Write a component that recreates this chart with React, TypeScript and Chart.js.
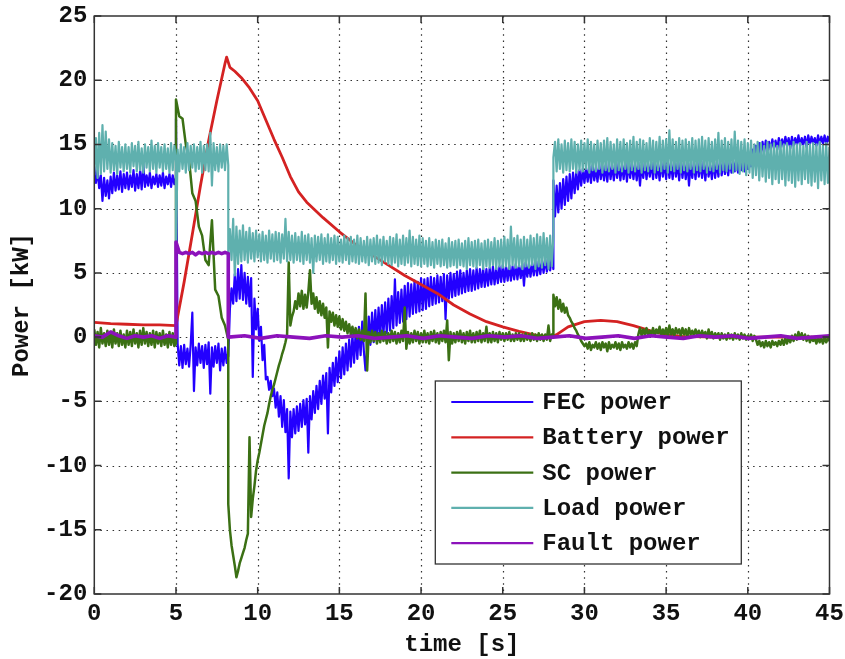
import React, { useEffect, useRef } from "react";
import { Chart, registerables } from "chart.js";

Chart.register(...registerables);

// ---- axes -------------------------------------------------------------
const timeTicks = [0, 5, 10, 15, 20, 25, 30, 35, 40, 45]; // s
const powerTicks = [-20, -15, -10, -5, 0, 5, 10, 15, 20, 25]; // kW

// Operating intervals [s]: normal, fault, post-fault, load step
const phaseBounds = [0, 5, 8.2, 28.1, 45];
const faultBounds = [0, 5, 8.2, 45];

// ---- FEC power [kW], samples spread evenly inside each interval --------
const fecPhase1 = [
  13.3, 12.0, 13.0, 11.6, 12.6, 10.6, 12.4, 11.0, 12.2, 10.8,
  12.5, 11.2, 12.8, 11.4, 12.6, 11.5, 12.9, 11.3, 12.7, 11.6,
  12.8, 11.5, 12.6, 11.7, 13.0, 11.4, 12.7, 11.6, 12.9, 11.5,
  13.5, 11.7, 12.6, 11.8, 12.8, 11.6, 12.5, 11.9, 12.7, 11.7,
  12.6, 11.8, 12.8, 11.6, 12.5, 11.9, 12.7, 11.7, 12.6, 11.9,
  12.4,
];
const fecPhase2 = [
  17.0, -0.5, -2.2, -0.7, -2.4, -0.6, -2.1, -0.9, -2.3, -0.6,
  1.9, -4.2, -0.8, -2.2, -0.5, -2.0, -0.7, -2.4, -0.6, -2.1,
  -0.4, -4.4, -0.8, -2.3, -0.7, -2.0, -0.5, -2.6, -0.9, -2.2,
  -0.8, -2.0, -1.2,
];
const fecPhase3 = [
  -1.5, 2.2, 3.8, 2.6, 4.9, 2.8, 5.3, 3.0, 5.6, 2.9,
  5.0, 2.6, 4.7, 2.4, 4.6, -3.1, 3.0, 0.6, 2.2, -0.3,
  0.8, -1.8, -0.6, -3.3, -3.1, -4.1, -3.4, -4.6, -4.0, -5.5,
  -4.3, -6.2, -4.6, -7.0, -4.9, -7.4, -5.6, -11.0, -5.8, -7.8,
  -5.6, -7.5, -5.4, -7.3, -5.2, -7.0, -4.9, -6.8, -4.8, -9.0,
  -4.6, -6.4, -4.2, -5.9, -3.8, -5.6, -3.4, -5.2, -3.0, -4.8,
  -2.8, -7.5, -2.4, -4.3, -2.0, -3.8, -1.6, -3.5, -1.1, -3.2,
  -0.8, -2.9, -0.5, -2.6, -0.2, -2.3, 0.2, -2.0, 0.5, -1.7,
  0.8, -1.4, 1.2, -1.1, -2.6, -0.9, 1.6, -0.6, 1.9, -0.4,
  2.1, -0.2, 2.3, 0.0, 2.5, 0.2, 2.7, 0.3, 3.0, 0.5,
  3.2, 0.7, 4.5, 0.9, 3.5, 1.1, 3.7, 1.2, 4.0, 1.4,
  4.2, 1.6, 4.1, 1.8, 4.4, 1.9, 4.3, 2.0, 4.6, 2.1,
  4.5, 2.2, 4.6, 2.4, 4.7, 2.5, 4.6, 2.6, 4.8, 2.7,
  4.7, 2.8, 4.9, 1.4, 4.8, 3.0, 5.0, 3.1, 4.9, 3.2,
  5.1, 3.3, 5.2, 3.4, 5.0, 3.5, 5.2, 3.6, 5.3, 3.6,
  5.2, 3.7, 5.4, 3.8, 5.3, 3.9, 5.4, 3.9, 5.3, 4.0,
  5.4, 4.1, 5.5, 4.1, 5.4, 4.2, 5.5, 4.3, 5.6, 4.3,
  5.5, 4.4, 5.6, 4.4, 5.5, 4.5, 5.7, 4.5, 5.6, 4.6,
  5.7, 4.0, 5.8, 4.7, 5.7, 4.7, 5.8, 4.8, 5.9, 4.8,
  5.9, 4.9, 6.0, 5.0, 6.1, 5.1, 6.0, 5.2, 6.2, 5.3,
];
const fecPhase4 = [
  12.2, 9.4, 11.8, 9.7, 12.0, 10.0, 12.3, 10.3, 12.5, 10.6,
  12.7, 10.8, 12.8, 11.2, 12.9, 11.5, 13.0, 11.8, 13.1, 12.0,
  13.2, 12.1, 13.3, 12.0, 13.4, 12.2, 13.2, 12.1, 13.5, 12.3,
  13.3, 12.2, 13.4, 12.1, 13.6, 12.3, 13.4, 12.2, 13.5, 12.4,
  13.6, 12.2, 13.4, 12.3, 13.7, 12.1, 13.5, 12.4, 13.6, 12.3,
  13.5, 12.2, 13.6, 11.8, 13.4, 12.4, 13.7, 12.3, 13.5, 12.5,
  13.6, 12.3, 13.8, 12.4, 13.5, 12.2, 13.7, 12.5, 13.6, 12.3,
  13.8, 12.4, 13.6, 12.3, 13.7, 12.5, 13.5, 12.2, 13.8, 12.4,
  13.6, 12.3, 13.7, 11.8, 13.5, 12.4, 13.6, 12.3, 13.8, 12.5,
  13.5, 12.4, 13.7, 12.2, 13.6, 12.5, 13.4, 12.3, 13.7, 12.4,
  13.6, 12.5, 13.8, 12.6, 13.7, 12.7, 13.6, 12.6, 13.8, 12.8,
  13.7, 12.9, 13.9, 12.8, 14.0, 13.0, 13.8, 12.9, 14.1, 13.1,
  14.2, 13.3, 14.6, 13.6, 14.9, 13.9, 15.1, 14.2, 15.2, 14.4,
  15.3, 14.5, 15.2, 14.6, 15.4, 14.7, 15.3, 14.6, 15.5, 14.8,
  15.4, 14.8, 15.6, 14.9, 15.5, 14.7, 15.6, 14.9, 15.5, 15.0,
  15.7, 14.9, 15.5, 15.0, 15.6, 14.8, 15.7, 15.0, 15.6, 15.1,
  15.5, 14.9, 15.7, 15.0, 15.6, 15.1, 15.7, 15.0, 15.6, 15.2,
];

// ---- Battery power [kW] ------------------------------------------------
const batteryTime = [
  0, 1, 2, 3, 4, 5, 5.5, 6, 6.5, 7, 7.5, 8, 8.1, 8.3, 8.6, 9, 9.5, 10,
  10.5, 11, 11.5, 12, 12.5, 13, 13.5, 14, 15, 16, 17, 18, 19, 20, 21, 22,
  23, 24, 25, 26, 27, 28, 28.3, 29, 30, 31, 32, 33, 34, 35, 36, 38, 40, 42, 45,
];
const batteryPower = [
  1.15, 1.05, 1.0, 0.95, 0.95, 0.9, 4.3, 8.0, 11.8, 15.3, 18.4, 21.3, 21.8,
  21.0, 20.7, 20.2, 19.4, 18.4, 16.9, 15.4, 14.0, 12.5, 11.3, 10.5, 9.9,
  9.3, 8.2, 7.2, 6.4, 5.6, 4.8, 4.1, 3.4, 2.5, 1.8, 1.2, 0.8, 0.45, 0.15,
  0.0, 0.2, 0.8, 1.2, 1.3, 1.2, 0.9, 0.5, 0.2, 0.05, 0, 0, 0, 0,
];

// ---- Supercapacitor power [kW] -----------------------------------------
const scPhase1 = [
  0.6, -0.6, 0.4, -0.8, 0.7, -0.5, 0.3, -0.7, 0.5, -0.6,
  0.4, -0.8, 0.6, -0.5, 0.3, -0.7, 0.5, -0.6, 0.2, -0.8,
  0.5, -0.6, 0.4, -0.7, 0.6, -0.5, 0.3, -0.8, 0.5, -0.6,
  0.7, -0.5, 0.4, -0.7, 0.3, -0.6, 0.5, -0.8, 0.4, -0.5,
  0.3, -0.7, 0.5, -0.6, 0.2, -0.8, 0.4, -0.6, 0.3, -0.7,
  -0.5,
];
const scPhase2 = [
  18.5, 17.2, 17.0, 15.0, 13.8, 11.2, 10.6, 8.6, 7.9, 6.0,
  5.6, 9.1, 3.7, 3.2, 1.5, 0.9, -0.2,
];
const scPhase3 = [
  -13.0, -15.0, -16.2, -17.0, -17.8, -18.7, -18.2, -17.6, -17.2, -16.8,
  -16.4, -15.8, -15.3, -7.8, -14.0, -12.6, -11.6, -10.4, -9.6, -9.0,
  -8.3, -7.6, -6.9, -6.4, -5.9, -5.2, -4.6, -4.1, -3.7, -3.2,
  -2.7, -2.2, -1.8, -1.3, -0.9, -0.4, 0.2, 5.8, 0.9, 1.6,
  2.0, 2.8, 2.2, 3.4, 2.4, 3.6, 2.2, 3.3, 2.3, 3.5,
  5.2, 2.6, 3.4, 2.2, 3.1, 1.9, 2.8, 1.7, 2.6, 1.5,
  2.3, -0.8, 2.0, 1.2, 1.9, 0.9, 1.7, 0.8, 1.6, 0.6,
  1.4, 0.5, 1.2, 0.3, 1.0, 0.2, 0.8, 0.1, 0.7, -0.1,
  0.6, -0.2, 0.5, -0.3, 3.4, -2.6, 0.4, -0.4, 0.5, -0.3,
  0.4, -0.5, 0.3, -0.4, 0.5, -0.3, 0.4, -0.5, 0.3, -0.4,
  0.5, -0.3, 0.4, -0.5, 0.3, -0.4, 0.5, -0.3, 2.3, -0.9,
  0.4, -0.5, 0.3, -0.4, 0.5, -0.3, 0.4, -0.5, 0.3, -0.4,
  0.5, -0.4, 0.3, -0.5, 0.4, -0.3, 0.5, -0.4, 0.3, -0.5,
  0.4, -0.3, 0.5, -0.4, 1.3, -1.8, 0.4, -0.5, 0.3, -0.4,
  0.4, -0.3, 0.5, -0.4, 0.3, -0.5, 0.4, -0.3, 0.5, -0.4,
  0.3, -0.4, 0.4, -0.3, 0.5, -0.4, 0.3, -0.3, 0.8, -0.4,
  0.3, -0.4, 0.4, -0.3, 0.3, -0.4, 0.4, -0.2, 0.3, -0.3,
  0.3, -0.2, 0.4, -0.3, 0.2, -0.3, 0.3, -0.2, 0.3, -0.3,
  0.2, -0.3, 0.3, -0.2, 0.2, -0.3, 0.3, -0.2, 0.2, -0.3,
  0.3, -0.2, 0.2, -0.3, 0.2, -0.2, 0.9, -0.3, 0.2, 0.1,
];
const scPhase4 = [
  3.3, 2.4, 3.1, 2.2, 2.9, 2.0, 2.6, 1.9, 2.3, 1.7,
  1.5, 1.2, 1.0, 0.7, 0.5, 0.2, 0.0, -0.3, -0.5, -0.7,
  -0.5, -0.9, -0.4, -1.0, -0.6, -0.8, -0.4, -0.9, -0.5, -1.0,
  -0.4, -0.8, -0.5, -1.1, -0.4, -0.9, -0.6, -0.8, -0.4, -0.9,
  -0.5, -1.0, -0.4, -0.8, -0.6, -0.9, -0.4, -0.8, -0.5, -0.9,
  -0.4, -0.7, 0.2, 0.7, 0.1, 0.6, 0.2, 0.7, 0.1, 0.5,
  0.2, 0.7, 0.1, 0.6, 0.3, 0.8, 0.1, 0.6, 0.2, 0.7,
  0.1, 0.9, 0.2, 0.6, 0.1, 0.7, 0.3, 0.6, 0.1, 0.7,
  0.2, 0.6, 0.0, 0.7, 0.2, 0.5, 0.1, 0.6, 0.2, 0.5,
  0.0, 0.5, 0.1, 0.4, -0.1, 0.6, 0.0, 0.4, -0.1, 0.3,
  0.0, 0.3, -0.2, 0.3, -0.1, 0.2, -0.2, 0.3, -0.1, 0.2,
  -0.2, 0.3, -0.1, 0.2, -0.2, 0.3, -0.1, 0.2, -0.2, 0.1,
  -0.1, 0.2, -0.3, 0.1, -0.2, -0.6, -0.3, -0.7, -0.4, -0.8,
  -0.3, -0.7, -0.4, -0.8, -0.3, -0.6, -0.4, -0.7, -0.3, -0.6,
  -0.2, -0.6, -0.1, -0.5, 0.0, -0.4, 0.1, -0.3, 0.2, -0.2,
  0.4, -0.1, 0.3, -0.2, 0.2, -0.3, 0.1, -0.4, 0.0, -0.3,
  -0.1, -0.5, 0.0, -0.4, -0.1, -0.5, 0.0, -0.4, -0.1, -0.3,
];

// ---- Load power [kW] ---------------------------------------------------
const loadPhase1 = [
  12.6, 15.5, 12.4, 15.9, 12.7, 16.5, 12.9, 16.0, 13.1, 15.4,
  12.8, 15.1, 13.0, 14.9, 12.7, 15.2, 13.2, 14.8, 12.9, 15.0,
  13.1, 14.8, 12.8, 15.1, 13.3, 14.9, 12.9, 15.2, 13.0, 14.7,
  12.8, 15.0, 13.2, 14.8, 12.9, 15.3, 13.1, 14.9, 12.8, 15.1,
  13.2, 14.8, 12.9, 15.0, 13.1, 14.7, 12.8, 15.1, 13.0, 14.9,
  13.6,
];
const loadPhase2 = [
  6.8, 14.6, 12.9, 15.0, 13.1, 14.8, 12.8, 15.1, 13.0, 14.9,
  13.2, 15.0, 12.9, 14.8, 13.1, 15.2, 12.8, 14.9, 13.0, 15.0,
  12.9, 15.9, 11.8, 15.1, 13.0, 14.8, 12.9, 15.0, 13.2, 14.9,
  13.0, 15.0, 13.4,
];
const loadPhase3 = [
  6.2, 8.4, 6.0, 9.2, 4.8, 8.6, 5.7, 8.3, 5.9, 8.7,
  6.0, 8.2, 5.8, 8.5, 6.1, 8.1, 5.9, 8.3, 6.2, 8.0,
  5.9, 8.2, 6.0, 7.9, 5.8, 8.3, 6.1, 8.0, 5.9, 8.2,
  6.0, 8.1, 5.8, 8.0, 6.1, 9.2, 5.9, 8.2, 6.0, 7.9,
  5.8, 8.1, 6.0, 7.8, 5.9, 8.2, 5.7, 7.9, 6.0, 8.0,
  5.8, 7.7, 5.0, 7.9, 5.9, 7.8, 6.0, 8.0, 5.7, 7.7,
  5.9, 8.0, 5.8, 7.7, 6.0, 7.9, 5.7, 7.8, 5.9, 7.6,
  5.8, 7.9, 6.0, 7.7, 5.7, 7.8, 5.9, 7.6, 5.8, 7.9,
  5.7, 7.7, 5.9, 7.5, 5.8, 7.8, 5.6, 7.6, 5.9, 7.7,
  5.7, 7.9, 5.8, 7.6, 5.6, 7.8, 5.9, 7.5, 5.7, 7.8,
  5.6, 7.7, 5.8, 8.0, 5.5, 7.6, 5.7, 7.9, 5.6, 7.7,
  5.8, 8.3, 5.5, 7.8, 5.7, 7.6, 5.6, 7.9, 5.5, 7.7,
  5.7, 7.5, 5.5, 7.7, 5.6, 7.4, 5.4, 7.6, 5.7, 7.5,
  5.5, 7.6, 5.6, 7.3, 5.4, 7.7, 5.5, 7.4, 5.6, 7.5,
  5.4, 7.6, 5.6, 7.3, 5.5, 7.5, 5.3, 7.7, 5.6, 7.4,
  5.5, 7.5, 5.4, 7.6, 5.6, 7.3, 5.3, 7.5, 5.5, 7.6,
  5.4, 7.4, 5.6, 7.7, 5.3, 7.5, 5.5, 7.6, 5.4, 7.8,
  5.5, 7.6, 5.3, 8.6, 5.6, 7.7, 5.4, 7.9, 5.5, 7.6,
  5.3, 7.8, 5.5, 7.6, 5.4, 7.9, 5.6, 7.7, 5.3, 8.0,
  5.5, 7.8, 5.4, 8.1, 5.6, 7.7, 5.3, 7.9, 5.5, 7.8,
];
const loadPhase4 = [
  14.0, 15.2, 12.9, 15.4, 13.1, 15.0, 12.8, 15.3, 13.0, 15.1,
  12.9, 15.4, 13.1, 15.2, 12.8, 15.0, 13.0, 15.3, 12.9, 15.1,
  13.1, 15.4, 12.8, 15.2, 13.0, 15.0, 12.9, 15.3, 13.1, 15.1,
  12.8, 15.3, 13.0, 15.5, 12.9, 15.2, 13.1, 15.0, 12.8, 15.4,
  13.0, 15.2, 12.9, 15.4, 13.1, 15.1, 12.8, 15.3, 13.0, 15.6,
  12.9, 15.2, 13.1, 15.4, 12.8, 15.3, 13.0, 15.1, 12.9, 15.5,
  13.1, 15.3, 12.8, 15.2, 13.0, 15.6, 12.9, 15.3, 13.1, 15.4,
  12.8, 16.1, 13.0, 15.4, 12.9, 15.2, 13.1, 15.5, 12.8, 15.3,
  13.0, 15.4, 12.9, 15.2, 13.1, 15.5, 12.8, 15.3, 13.0, 15.4,
  12.9, 15.6, 13.1, 15.3, 12.8, 15.5, 13.0, 15.2, 12.9, 15.4,
  13.1, 15.9, 12.8, 15.3, 13.0, 15.5, 12.9, 15.2, 13.1, 15.4,
  12.8, 16.0, 13.0, 15.3, 12.7, 15.2, 12.9, 15.4, 12.6, 15.1,
  12.8, 15.3, 12.4, 15.0, 12.6, 15.2, 12.2, 15.1, 12.5, 14.9,
  12.1, 15.2, 12.4, 15.0, 11.9, 15.1, 12.3, 14.9, 12.0, 15.2,
  12.3, 15.0, 11.8, 15.1, 12.2, 14.9, 12.0, 15.2, 11.7, 15.0,
  12.2, 15.1, 11.9, 14.9, 12.3, 15.2, 12.0, 15.0, 11.8, 15.1,
  12.1, 15.0, 11.6, 15.2, 12.2, 14.9, 11.9, 15.1, 12.0, 14.8,
];

// ---- Fault power [kW] --------------------------------------------------
const faultPhase1 = [0.1, 0.0, 0.4, 0.1, -0.1, 0.1, 0.0, 0.1, -0.1, 0.1, 0.0];
const faultPhase2 = [
  7.4, 6.6, 6.5, 6.6, 6.5, 6.6, 6.4, 6.6, 6.5, 6.6,
  6.5, 6.6, 6.5, 6.6, 6.5, 6.6, 6.5,
];
const faultPhase3 = [
  0.0, 0.1, -0.1, 0.1, 0.0, -0.1, 0.1, 0.0, 0.1, -0.1,
  0.0, 0.1, -0.1, 0.1, 0.0, -0.1, 0.1, 0.0, 0.1, -0.1,
  0.0, 0.1, -0.1, 0.0, 0.1, -0.1, 0.1, 0.0, -0.1, 0.1,
  0.0, 0.1, -0.1, 0.0, 0.1, -0.1, 0.0, 0.1,
];

const seriesNames = ["FEC power", "Battery power", "SC power", "Load power", "Fault power"];
const seriesColors = ["#2300ff", "#d42222", "#3b7014", "#5fb0ae", "#8c12bb"];
const seriesWidths = [2.2, 2.8, 2.5, 2.2, 3.6];

const FONT = { family: "'Liberation Mono', 'DejaVu Sans Mono', monospace", size: 24, weight: "bold" as const };
const INK = "#111111";

type Pt = { x: number; y: number };

// Spread each interval's samples evenly between its start and end time.
function sampled(bounds: number[], parts: number[][]): Pt[] {
  const pts: Pt[] = [];
  parts.forEach((vals, k) => {
    const t0 = bounds[k];
    const t1 = bounds[k + 1];
    vals.forEach((v, i) => pts.push({ x: t0 + ((t1 - t0) * i) / (vals.length - 1), y: v }));
  });
  return pts;
}

function paired(t: number[], v: number[]): Pt[] {
  return t.map((x, i) => ({ x, y: v[i] }));
}

// Dotted grid, framed box with inward ticks, and the boxed legend.
const framePlugin = {
  id: "frame",
  beforeDatasetsDraw(chart: any) {
    const { ctx, chartArea: a, scales } = chart;
    const xs = scales.x;
    const ys = scales.y;
    ctx.save();
    ctx.strokeStyle = "#303030";
    ctx.lineWidth = 1.2;
    ctx.setLineDash([1.5, 4.6]);
    ctx.beginPath();
    timeTicks.forEach((t) => {
      if (t <= xs.min || t >= xs.max) return;
      const px = Math.round(xs.getPixelForValue(t)) + 0.5;
      ctx.moveTo(px, a.top);
      ctx.lineTo(px, a.bottom);
    });
    powerTicks.forEach((p) => {
      if (p <= ys.min || p >= ys.max) return;
      const py = Math.round(ys.getPixelForValue(p)) + 0.5;
      ctx.moveTo(a.left, py);
      ctx.lineTo(a.right, py);
    });
    ctx.stroke();
    ctx.restore();
  },
  afterDatasetsDraw(chart: any) {
    const { ctx, chartArea: a, scales } = chart;
    const xs = scales.x;
    const ys = scales.y;
    ctx.save();
    ctx.strokeStyle = "#333333";
    ctx.lineWidth = 1.5;
    ctx.setLineDash([]);
    ctx.strokeRect(a.left, a.top, a.right - a.left, a.bottom - a.top);
    const tl = 7;
    ctx.beginPath();
    timeTicks.forEach((t) => {
      const px = xs.getPixelForValue(t);
      ctx.moveTo(px, a.bottom);
      ctx.lineTo(px, a.bottom - tl);
      ctx.moveTo(px, a.top);
      ctx.lineTo(px, a.top + tl);
    });
    powerTicks.forEach((p) => {
      const py = ys.getPixelForValue(p);
      ctx.moveTo(a.left, py);
      ctx.lineTo(a.left + tl, py);
      ctx.moveTo(a.right, py);
      ctx.lineTo(a.right - tl, py);
    });
    ctx.stroke();

    // legend box
    const bx = a.left + 341;
    const by = a.top + 365;
    const bw = 306;
    const bh = 183;
    ctx.fillStyle = "#ffffff";
    ctx.fillRect(bx, by, bw, bh);
    ctx.lineWidth = 1.3;
    ctx.strokeStyle = "#333333";
    ctx.strokeRect(bx, by, bw, bh);
    ctx.font = `${FONT.weight} ${FONT.size}px ${FONT.family}`;
    ctx.textBaseline = "middle";
    ctx.textAlign = "left";
    seriesNames.forEach((name, i) => {
      const ry = by + 21 + i * 35.3;
      ctx.strokeStyle = seriesColors[i];
      ctx.lineWidth = 2.2;
      ctx.beginPath();
      ctx.moveTo(bx + 16, ry);
      ctx.lineTo(bx + 98, ry);
      ctx.stroke();
      ctx.fillStyle = INK;
      ctx.fillText(name, bx + 107, ry + 1);
    });
    ctx.restore();
  },
};

export default function App() {
  const canvasRef = useRef<HTMLCanvasElement | null>(null);

  useEffect(() => {
    const canvas = canvasRef.current;
    if (!canvas) return;

    const fec = sampled(phaseBounds, [fecPhase1, fecPhase2, fecPhase3, fecPhase4]);
    const battery = paired(batteryTime, batteryPower);
    const sc = sampled(phaseBounds, [scPhase1, scPhase2, scPhase3, scPhase4]);
    const load = sampled(phaseBounds, [loadPhase1, loadPhase2, loadPhase3, loadPhase4]);
    const fault = sampled(faultBounds, [faultPhase1, faultPhase2, faultPhase3]);

    // later series are painted over earlier ones
    const drawOrder = [5, 4, 3, 2, 1];
    const data = [fec, battery, sc, load, fault];

    const chart = new Chart(canvas, {
      type: "line",
      data: {
        datasets: data.map((d, i) => ({
          label: seriesNames[i],
          data: d,
          borderColor: seriesColors[i],
          backgroundColor: seriesColors[i],
          borderWidth: seriesWidths[i],
          borderJoinStyle: "round",
          pointRadius: 0,
          tension: 0,
          fill: false,
          order: drawOrder[i],
        })),
      },
      options: {
        animation: false,
        responsive: true,
        maintainAspectRatio: false,
        parsing: false,
        layout: { padding: { left: 0, right: 15.5, top: 16, bottom: 0 } },
        plugins: { legend: { display: false }, tooltip: { enabled: false } },
        scales: {
          x: {
            type: "linear",
            min: timeTicks[0],
            max: timeTicks[timeTicks.length - 1],
            ticks: {
              stepSize: timeTicks[1] - timeTicks[0],
              font: FONT,
              color: INK,
              padding: 6,
              maxRotation: 0,
              autoSkip: false,
            },
            grid: { display: false, drawTicks: false },
            border: { display: false },
            title: { display: true, text: "time [s]", font: FONT, color: INK, padding: { top: 0, bottom: 0 } },
            afterFit: (s: any) => {
              s.height = 65;
              s.paddingLeft = 0;
              s.paddingRight = 0;
            },
          },
          y: {
            type: "linear",
            min: powerTicks[0],
            max: powerTicks[powerTicks.length - 1],
            ticks: {
              stepSize: powerTicks[1] - powerTicks[0],
              font: FONT,
              color: INK,
              padding: 7,
              autoSkip: false,
            },
            grid: { display: false, drawTicks: false },
            border: { display: false },
            title: { display: true, text: "Power [kW]", font: FONT, color: INK, padding: { top: 8, bottom: 0 } },
            afterFit: (s: any) => {
              s.width = 94.3;
              s.paddingTop = 0;
              s.paddingBottom = 0;
            },
          },
        },
      },
      plugins: [framePlugin],
    } as any);

    return () => chart.destroy();
  }, []);

  return (
    <div style={{ position: "fixed", left: 0, top: 0, width: 845, height: 659, background: "#ffffff" }}>
      <canvas ref={canvasRef} />
    </div>
  );
}
